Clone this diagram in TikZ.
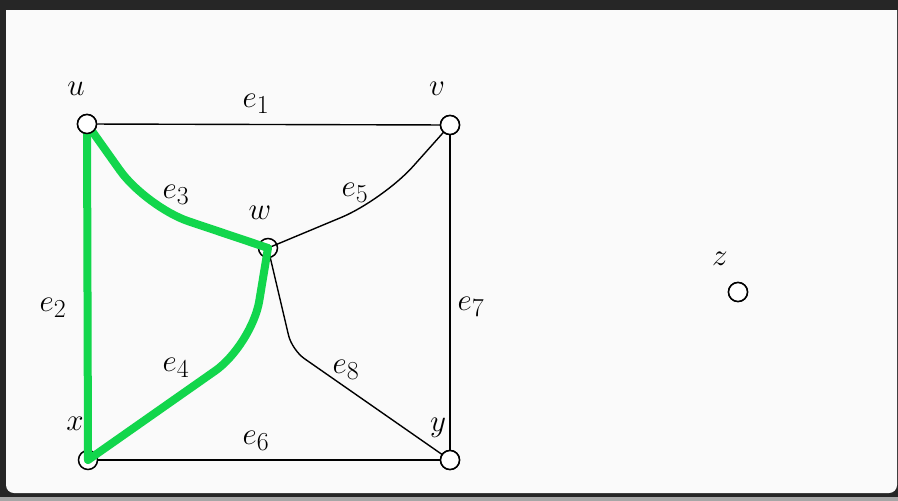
\documentclass[tikz,border=0pt]{standalone}
\usetikzlibrary{positioning}
\usepackage{xcolor}
\usepackage{graphicx}
\definecolor{pathgreen}{RGB}{18,214,76}
\definecolor{panelgray}{RGB}{250,250,250}
\definecolor{framedark}{RGB}{38,38,38}

\newcommand{\glab}[1]{\scalebox{1.25}{\Huge$#1$}}

\tikzset{
  vertex/.style={circle, draw, fill=white, line width=1.5pt, inner sep=0pt, minimum size=19pt},
  edge/.style={line width=1.4pt, rounded corners=45pt},
  greenline/.style={line width=8pt, pathgreen, line cap=round, line join=round, rounded corners=45pt},
  lbl/.style={inner sep=0pt}
}

\begin{document}
\begin{tikzpicture}[x=1pt, y=-1pt]
        % frame
        \fill[framedark] (0,0) rectangle (898,501);
        \fill[gray!70] (0,497) rectangle (898,501);
        \fill[panelgray] (6,10) [rounded corners=8pt] -- (6,493) -- (897,493) [sharp corners] -- (897,10) -- cycle;
        \useasboundingbox (0,0) rectangle (898,501);

        % vertices
        \node[vertex] (u) at (87,124) {};
        \node[vertex] (v) at (450,125) {};
        \node[vertex] (w) at (268,248) {};
        \node[vertex] (x) at (88,460) {};
        \node[vertex] (y) at (450,460) {};
        \node[vertex] (z) at (738,292) {};

        % bends of the curved edges
        \coordinate (b3) at (146,207);
        \coordinate (b4) at (252,345);
        \coordinate (b5) at (383,200);
        \coordinate (b8) at (292,350);

        % edges
        \draw[edge] (u) -- (v);
        \draw[edge] (u) -- (x);
        \draw[edge] (u.center) -- (b3) -- (w.center);
        \draw[edge] (x.center) -- (b4) -- (w.center);
        \draw[edge] (w.center) -- (b5) -- (v.center);
        \draw[edge] (x) -- (y);
        \draw[edge] (v) -- (y);
        \draw[edge, rounded corners=15pt] (w.center) -- (b8) -- (y.center);

        % highlighted cycle
        \draw[greenline] (u.center) -- (b3) -- (w.center);
        \draw[greenline] (w.center) -- (b4) -- (x.center);
        \draw[greenline] (x.center) -- (u.center);

        % redraw vertices on top
        \foreach \v/\p in {u/{87,124}, v/{450,125}, y/{450,460}, z/{738,292}}
          \node[vertex] at (\p) {};

        % vertex labels
        \node[lbl] (lu) at (76,89) {\glab{u}};
        \node[lbl] (lv) at (437,89) {\glab{v}};
        \node[lbl] (lw) at (260,213) {\glab{w}};
        \node[lbl] (lx) at (75,424) {\glab{x}};
        \node[lbl] (ly) at (438,428) {\glab{y}};
        \node[lbl] (lz) at (720,259) {\glab{z}};

        % edge labels
        \node[lbl] (le1) at (256,104) {\glab{e_1}};
        \node[lbl] (le2) at (53,308) {\glab{e_2}};
        \node[lbl] (le3) at (176,195) {\glab{e_3}};
        \node[lbl] (le4) at (176,368) {\glab{e_4}};
        \node[lbl] (le5) at (355,193) {\glab{e_5}};
        \node[lbl] (le6) at (256,441) {\glab{e_6}};
        \node[lbl] (le7) at (471,307) {\glab{e_7}};
        \node[lbl] (le8) at (346,370) {\glab{e_8}};
    \end{tikzpicture}
\end{document}
